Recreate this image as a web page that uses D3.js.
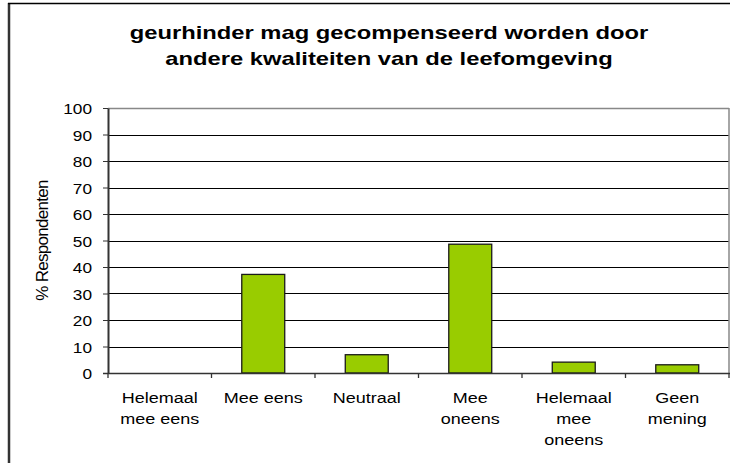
<!DOCTYPE html>
<html>
<head>
<meta charset="utf-8">
<script src="https://cdn.jsdelivr.net/npm/d3@7"></script>
<style>
  body { margin: 0; background: #fff; }
  svg { display: block; font-family: Arial, "Liberation Sans", sans-serif; }
</style>
</head>
<body>
<svg id="chart" width="730" height="463"></svg>
<script>
// data
var categories = [
  ["Helemaal", "mee eens"],
  ["Mee eens"],
  ["Neutraal"],
  ["Mee", "oneens"],
  ["Helemaal", "mee", "oneens"],
  ["Geen", "mening"]
];
var values = [0, 37.2, 6.9, 48.6, 4.1, 3.1];
var yTicks = [0, 10, 20, 30, 40, 50, 60, 70, 80, 90, 100];
var titleLines = ["geurhinder mag gecompenseerd worden door", "andere kwaliteiten van de leefomgeving"];
var yLabel = "% Respondenten";

var svg = d3.select("#chart");

var margin = {left: 108, right: 1, top: 108, bottom: 90};
var width = 730, height = 463;

var x = d3.scaleBand()
  .domain(d3.range(categories.length))
  .range([margin.left, width - margin.right])
  .paddingInner(0.585)
  .paddingOuter(0.2925);

var xb = d3.scaleBand()
  .domain(d3.range(categories.length))
  .range([margin.left, width - margin.right]);

var y = d3.scaleLinear()
  .domain([0, 100])
  .range([height - margin.bottom, margin.top]);

// outer frame
svg.append("line").attr("x1", 9).attr("x2", 9).attr("y1", 3).attr("y2", height)
  .attr("stroke", "#333").attr("stroke-width", 2.5);
svg.append("line").attr("x1", 8).attr("x2", width).attr("y1", 3.5).attr("y2", 3.5)
  .attr("stroke", "#000").attr("stroke-width", 1.5);

// title (the original is stretched sideways a bit)
svg.append("g").selectAll("text")
  .data(titleLines)
  .join("text")
  .attr("transform", (d, i) => `translate(389,${39 + i * 26}) scale(1.25,1)`)
  .attr("text-anchor", "middle")
  .attr("font-weight", "bold")
  .attr("font-size", "19px")
  .text(d => d);

// gridlines
svg.append("g")
  .selectAll("line")
  .data(yTicks.slice(1, -1))
  .join("line")
  .attr("x1", margin.left).attr("x2", width - margin.right)
  .attr("y1", d => Math.round(y(d)) + 0.5).attr("y2", d => Math.round(y(d)) + 0.5)
  .attr("stroke", "#000");

// plot area border
svg.append("line")
  .attr("x1", margin.left).attr("x2", width - margin.right)
  .attr("y1", y(100) + 0.5).attr("y2", y(100) + 0.5)
  .attr("stroke", "#888").attr("stroke-width", 1.5);
svg.append("line")
  .attr("x1", width - margin.right).attr("x2", width - margin.right)
  .attr("y1", y(100)).attr("y2", y(0))
  .attr("stroke", "#888").attr("stroke-width", 1.5);

// bars
svg.append("g")
  .selectAll("rect")
  .data(values)
  .join("rect")
  .attr("x", (d, i) => x(i))
  .attr("width", x.bandwidth())
  .attr("y", d => y(d))
  .attr("height", d => y(0) - y(d))
  .attr("fill", "#99cc00")
  .attr("stroke", "#1a1a1a")
  .attr("stroke-width", 1.3);

// y axis
var yAxis = d3.axisLeft(y).tickValues(yTicks).tickSize(5).tickSizeOuter(0);
var gy = svg.append("g")
  .attr("transform", `translate(${margin.left},0)`)
  .call(yAxis);
gy.select(".domain").attr("stroke", "#333").attr("stroke-width", 2);
gy.selectAll(".tick line").attr("stroke", "#333").attr("stroke-width", 1);
gy.selectAll(".tick text")
  .attr("font-size", "15px")
  .attr("fill", "#000")
  .attr("font-family", "Arial, 'Liberation Sans', sans-serif")
  .attr("x", null)
  .attr("dy", null)
  .attr("transform", "translate(-16,5.5) scale(1.15,1)");

// x axis line + ticks at band edges
svg.append("line")
  .attr("x1", margin.left - 5).attr("x2", width)
  .attr("y1", y(0) + 0.5).attr("y2", y(0) + 0.5)
  .attr("stroke", "#333").attr("stroke-width", 1.3);
svg.append("g")
  .selectAll("line")
  .data(d3.range(categories.length + 1))
  .join("line")
  .attr("x1", i => i < categories.length ? xb(i) : width - margin.right)
  .attr("x2", i => i < categories.length ? xb(i) : width - margin.right)
  .attr("y1", y(0)).attr("y2", y(0) + 5)
  .attr("stroke", "#333").attr("stroke-width", 1.3);

// category labels
svg.append("g")
  .selectAll("g")
  .data(categories)
  .join("g")
  .attr("transform", (d, i) => `translate(${xb(i) + xb.bandwidth() / 2},0)`)
  .selectAll("text")
  .data(d => d)
  .join("text")
  .attr("transform", (d, j) => `translate(0,${403 + j * 21}) scale(1.2,1)`)
  .attr("text-anchor", "middle")
  .attr("font-size", "15px")
  .text(d => d);

// y label
svg.append("text")
  .attr("transform", `translate(48,${(y(0) + y(100)) / 2}) rotate(-90)`)
  .attr("text-anchor", "middle")
  .attr("font-size", "17px")
  .attr("letter-spacing", "-0.7px")
  .text(yLabel);
</script>
</body>
</html>
